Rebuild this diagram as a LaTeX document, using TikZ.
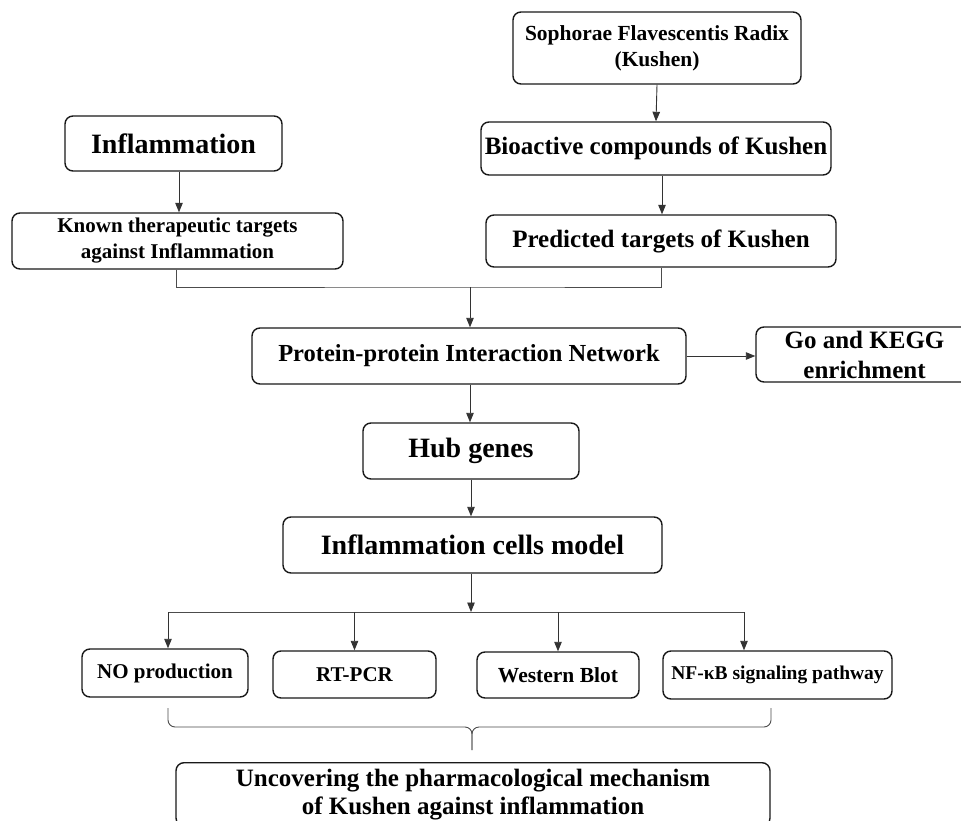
\documentclass[tikz,border=0pt]{standalone}
\usepackage{fontspec}
\setmainfont{Liberation Serif}
\usetikzlibrary{arrows.meta}
\begin{document}
\begin{tikzpicture}[x=1pt,y=-1pt,
  box/.style={draw=black!90, line width=1.4pt, rounded corners=8pt, align=center, inner sep=0pt},
  arr/.style={draw=black!80, line width=0.9pt, -{Triangle[length=9.5pt,width=7.5pt]}},
  ln/.style={draw=black!70, line width=0.9pt}]
\useasboundingbox (0,0) rectangle (961,821);
\fill[white] (0,0) rectangle (961,821);

\node[box, minimum width=288pt, minimum height=72pt, font={\bfseries\fontsize{21.5}{26}\selectfont}] (soph) at (657,48) {Sophorae Flavescentis Radix\\(Kushen)};
\node[box, minimum width=350pt, minimum height=53pt, font={\bfseries\fontsize{25}{30}\selectfont}] (bio) at (656,148.5) {Bioactive compounds of Kushen};
\node[box, minimum width=350pt, minimum height=52pt, font={\bfseries\fontsize{25}{30}\selectfont}] (pred) at (661,241) {Predicted targets of Kushen};
\node[box, minimum width=217pt, minimum height=55pt, font={\bfseries\fontsize{28}{32}\selectfont}] (infl) at (173.5,143.5) {Inflammation};
\node[box, minimum width=331pt, minimum height=56pt, font={\bfseries\fontsize{21}{26}\selectfont}] (known) at (177.5,241) {Known therapeutic targets\\against Inflammation};
\node[box, minimum width=434pt, minimum height=56pt, font={\bfseries\fontsize{24.5}{30}\selectfont}] (ppi) at (469,356) {Protein-protein Interaction Network};
\node[box, minimum width=217pt, minimum height=55pt, font={\bfseries\fontsize{25}{30}\selectfont}] (go) at (864.5,354.5) {Go and KEGG\\enrichment};
\node[box, minimum width=216pt, minimum height=56pt, font={\bfseries\fontsize{28}{32}\selectfont}] (hub) at (471,451) {Hub genes};
\node[box, minimum width=379pt, minimum height=56pt, font={\bfseries\fontsize{28}{32}\selectfont}] (icm) at (472.5,545) {Inflammation cells model};
\node[box, minimum width=166pt, minimum height=48pt, font={\bfseries\fontsize{21}{25}\selectfont}] (no) at (165,673) {NO production};
\node[box, minimum width=163pt, minimum height=47pt, font={\bfseries\fontsize{21}{25}\selectfont}] (rt) at (354.5,674.5) {RT-PCR};
\node[box, minimum width=162pt, minimum height=46pt, font={\bfseries\fontsize{21.5}{25}\selectfont}] (wb) at (558,675) {Western Blot};
\node[box, minimum width=229pt, minimum height=48pt, font={\bfseries\fontsize{19.5}{24}\selectfont}] (nf) at (777.5,675) {NF-κB signaling pathway};
\node[box, minimum width=594pt, inner sep=6pt, anchor=north, font={\bfseries\fontsize{25}{28.5}\selectfont}] (final) at (473,762) {Uncovering the pharmacological mechanism\\of Kushen against inflammation};

% top connectors
\draw[arr] ([xshift=5.5pt]infl.south) -- ([xshift=5.5pt]infl.south |- known.north);
\draw[arr] (soph.south) -- (bio.north);
\draw[arr] ([xshift=6pt]bio.south) -- ([xshift=6pt]bio.south |- pred.north);

\coordinate (m) at (470,287);
\draw[ln] ([xshift=-1.5pt]known.south) |- (m) -| (pred.south);
\draw[arr] (m) -- (m |- ppi.north);
\draw[arr] (ppi.east) -- (ppi.east -| go.west);
\draw[arr] ([xshift=1pt]ppi.south) -- ([xshift=1pt]ppi.south |- hub.north);
\draw[arr] (hub.south) -- (hub.south |- icm.north);

% split
\coordinate (s) at (471,612);
\coordinate (sl) at (168,612);
\coordinate (sr) at (744,612);
\draw[arr] (icm.south -| s) -- (s);
\draw[ln] (sl) -- (sr);
\draw[arr] (sl) -- (sl |- no.north);
\draw[arr] (rt.north |- s) -- (rt.north);
\draw[arr] (wb.north |- s) -- (wb.north);
\draw[arr] (sr) -- (sr |- nf.north);

% brace
\coordinate (bl) at (168,708);
\coordinate (br) at (771,708);
\coordinate (bm) at (472,727);
\coordinate (bt) at (472,750);
\draw[ln, rounded corners=7pt] (bl) |- (bm) -- (bt);
\draw[ln, rounded corners=7pt] (br) |- (bm) -- (bt);
\end{tikzpicture}
\end{document}
